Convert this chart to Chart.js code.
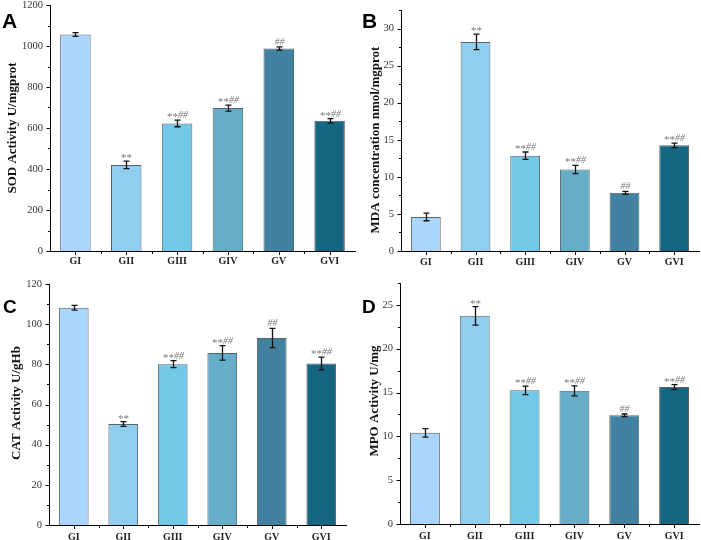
<!DOCTYPE html>
<html>
<head>
<meta charset="utf-8">
<script src="https://cdn.jsdelivr.net/npm/chart.js@4.4.1/dist/chart.umd.min.js"></script>
<style>
  body { margin: 0; background: #fff; }
  #wrap { position: relative; width: 701px; height: 540px; overflow: hidden; background: #fff; }
  canvas { position: absolute; }
</style>
</head>
<body>
<div id="wrap">
  <canvas id="panelA"></canvas>
  <canvas id="panelB"></canvas>
  <canvas id="panelC"></canvas>
  <canvas id="panelD"></canvas>
</div>
<script>
// groups and bar colours
const groups = ['GI', 'GII', 'GIII', 'GIV', 'GV', 'GVI'];
const barColors = ['#aad5fd', '#90cef0', '#72c8e6', '#66aec8', '#4282a0', '#166682'];

// A: SOD activity (U/mgprot)
const sodValues = [1056, 420, 622, 697, 988, 635];
const sodErrors = [9, 18, 16, 15, 8, 11];
const sodMarks = ['', '**', '**##', '**##', '##', '**##'];

// B: MDA concentration (nmol/mgprot)
const mdaValues = [4.6, 28.2, 12.85, 11.0, 7.85, 14.25];
const mdaErrors = [0.52, 1.05, 0.5, 0.56, 0.2, 0.3];
const mdaMarks = ['', '**', '**##', '**##', '##', '**##'];

// C: CAT activity (U/gHb)
const catValues = [108.2, 50.3, 80.1, 85.7, 93.1, 80.4];
const catErrors = [1.2, 1.2, 1.7, 3.6, 4.8, 3.2];
const catMarks = ['', '**', '**##', '**##', '##', '**##'];

// D: MPO activity (U/mg)
const mpoValues = [10.4, 23.75, 15.25, 15.2, 12.4, 15.62];
const mpoErrors = [0.49, 1.05, 0.49, 0.57, 0.15, 0.29];
const mpoMarks = ['', '**', '**##', '**##', '##', '**##'];

// y axis ranges: top of axis, labelled step, minor tick step
const sodAxis = [1200, 200, 100];
const mdaAxis = [32.5, 5, 2.5];
const catAxis = [120, 20, 10];
const mpoAxis = [27.5, 5, 2.5];

const panels = [
  { id: 'panelA', letter: 'A', title: 'SOD Activity U/mgprot', values: sodValues, errors: sodErrors, marks: sodMarks, axis: sodAxis,
    box: [0, 0, 358, 270], area: [50, 5, 355, 251], titleAt: [13, 128], letterAt: [2, 28], letterSize: 21, labelPad: 4 },
  { id: 'panelB', letter: 'B', title: 'MDA concentration nmol/mgprot', values: mdaValues, errors: mdaErrors, marks: mdaMarks, axis: mdaAxis,
    box: [350, 0, 351, 270], area: [401, 10, 699, 251], titleAt: [376, 140], letterAt: [362, 28], letterSize: 21, labelPad: 5 },
  { id: 'panelC', letter: 'C', title: 'CAT Activity U/gHb', values: catValues, errors: catErrors, marks: catMarks, axis: catAxis,
    box: [0, 270, 350, 270], area: [49, 284, 346, 525], titleAt: [17, 403], letterAt: [3, 313], letterSize: 19, labelPad: 6 },
  { id: 'panelD', letter: 'D', title: 'MPO Activity U/mg', values: mpoValues, errors: mpoErrors, marks: mpoMarks, axis: mpoAxis,
    box: [350, 270, 351, 270], area: [400, 283, 699, 524], titleAt: [375, 401], letterAt: [362, 313], letterSize: 19, labelPad: 6 }
];

const serif = "'Liberation Serif', 'Times New Roman', serif";

// error bars, significance marks, tick marks, axis title and panel letter
const extras = {
  id: 'extras',
  afterDatasetsDraw(chart, args, opts) {
    const p = opts.panel;
    const { ctx, scales: { x, y } } = chart;
    ctx.save();
    ctx.strokeStyle = '#111';
    ctx.lineWidth = 1.3;
    p.values.forEach((v, i) => {
      const cx = Math.round(x.getPixelForValue(i)) + 0.5;
      const yt = y.getPixelForValue(v + p.errors[i]);
      const yb = y.getPixelForValue(v - p.errors[i]);
      ctx.beginPath();
      ctx.moveTo(cx, yt); ctx.lineTo(cx, yb);
      ctx.moveTo(cx - 3, yt); ctx.lineTo(cx + 3, yt);
      ctx.moveTo(cx - 3, yb); ctx.lineTo(cx + 3, yb);
      ctx.stroke();

      const mark = p.marks[i];
      if (!mark) return;
      const stars = mark.replace(/#/g, '');
      const hashes = mark.replace(/\*/g, '');
      ctx.fillStyle = '#777';
      ctx.textBaseline = 'alphabetic';
      ctx.textAlign = 'left';
      ctx.font = '11px ' + serif;
      const ws = ctx.measureText(stars).width;
      ctx.font = 'italic 10px ' + serif;
      const wh = ctx.measureText(hashes).width;
      const tx = cx - (ws + wh) / 2;
      const ty = yt - 2;
      ctx.font = '11px ' + serif;
      ctx.fillText(stars, tx, ty + 2);
      ctx.font = 'italic 10px ' + serif;
      ctx.fillText(hashes, tx + ws, ty);
    });
    ctx.restore();
  },
  afterDraw(chart, args, opts) {
    const p = opts.panel;
    const { ctx, scales: { x, y } } = chart;
    const [max, step, minor] = p.axis;
    ctx.save();
    ctx.strokeStyle = '#000';
    ctx.lineWidth = 1;
    ctx.beginPath();
    // y ticks, pointing out
    const ax = Math.round(y.right) + 0.5;
    for (let k = 0; k * minor <= max + 1e-9; k++) {
      const v = k * minor;
      const major = Math.abs(v / step - Math.round(v / step)) < 1e-6;
      const py = Math.round(y.getPixelForValue(v)) + 0.5;
      ctx.moveTo(ax, py);
      ctx.lineTo(ax - (major ? 4 : 2.5), py);
    }
    // x ticks: major at bars, minor between
    const ay = Math.round(x.top) + 0.5;
    for (let i = 0; i < groups.length; i++) {
      const px = Math.round(x.getPixelForValue(i)) + 0.5;
      ctx.moveTo(px, ay); ctx.lineTo(px, ay + 3.5);
      if (i > 0) {
        const mx = Math.round((x.getPixelForValue(i) + x.getPixelForValue(i - 1)) / 2) + 0.5;
        ctx.moveTo(mx, ay); ctx.lineTo(mx, ay + 2.5);
      }
    }
    ctx.stroke();

    // axis title
    const ox = p.box[0], oy = p.box[1];
    ctx.fillStyle = '#111';
    ctx.font = 'bold 13px ' + serif;
    ctx.textAlign = 'center';
    ctx.textBaseline = 'middle';
    ctx.translate(p.titleAt[0] - ox, p.titleAt[1] - oy);
    ctx.rotate(-Math.PI / 2);
    ctx.fillText(p.title, 0, 0);
    ctx.setTransform(1, 0, 0, 1, 0, 0);

    // panel letter
    ctx.fillStyle = '#000';
    ctx.font = 'bold ' + p.letterSize + "px 'Liberation Sans', Arial, sans-serif";
    ctx.textAlign = 'left';
    ctx.textBaseline = 'alphabetic';
    ctx.fillText(p.letter, p.letterAt[0] - ox, p.letterAt[1] - oy);
    ctx.restore();
  }
};

panels.forEach(p => {
  const [bx, by, bw, bh] = p.box;
  const [L, T, R, B] = p.area;
  const canvas = document.getElementById(p.id);
  canvas.width = bw; canvas.height = bh;
  canvas.style.left = bx + 'px'; canvas.style.top = by + 'px';
  canvas.style.width = bw + 'px'; canvas.style.height = bh + 'px';
  const [max, step] = p.axis;

  new Chart(canvas, {
    type: 'bar',
    data: {
      labels: groups,
      datasets: [{
        data: p.values,
        backgroundColor: barColors,
        borderColor: '#56636a',
        borderWidth: 1,
        categoryPercentage: 1,
        barPercentage: 0.6
      }]
    },
    options: {
      responsive: false,
      animation: false,
      devicePixelRatio: 1,
      layout: { padding: { left: 0, top: T - by, right: bx + bw - R, bottom: 0 } },
      plugins: {
        legend: { display: false },
        tooltip: { enabled: false },
        extras: { panel: p }
      },
      scales: {
        x: {
          offset: true,
          grid: { display: false, drawTicks: false },
          border: { display: true, color: '#000', width: 1 },
          ticks: {
            color: '#222', padding: p.labelPad, maxRotation: 0, autoSkip: false,
            font: { family: serif, size: 10, weight: 'bold' }
          },
          afterFit(s) { s.height = by + bh - B; s.paddingLeft = 0; s.paddingRight = 0; }
        },
        y: {
          min: 0, max: max,
          grid: { display: false, drawTicks: false },
          border: { display: true, color: '#000', width: 1 },
          ticks: {
            stepSize: step, color: '#333', padding: 7,
            font: { family: serif, size: 10.5 },
            callback: v => String(v)
          },
          afterBuildTicks(s) {
            s.ticks = s.ticks.filter(t => Math.abs(t.value / step - Math.round(t.value / step)) < 1e-6);
          },
          afterFit(s) { s.width = L - bx; s.paddingTop = 0; s.paddingBottom = 0; }
        }
      }
    },
    plugins: [extras]
  });
});
</script>
</body>
</html>
